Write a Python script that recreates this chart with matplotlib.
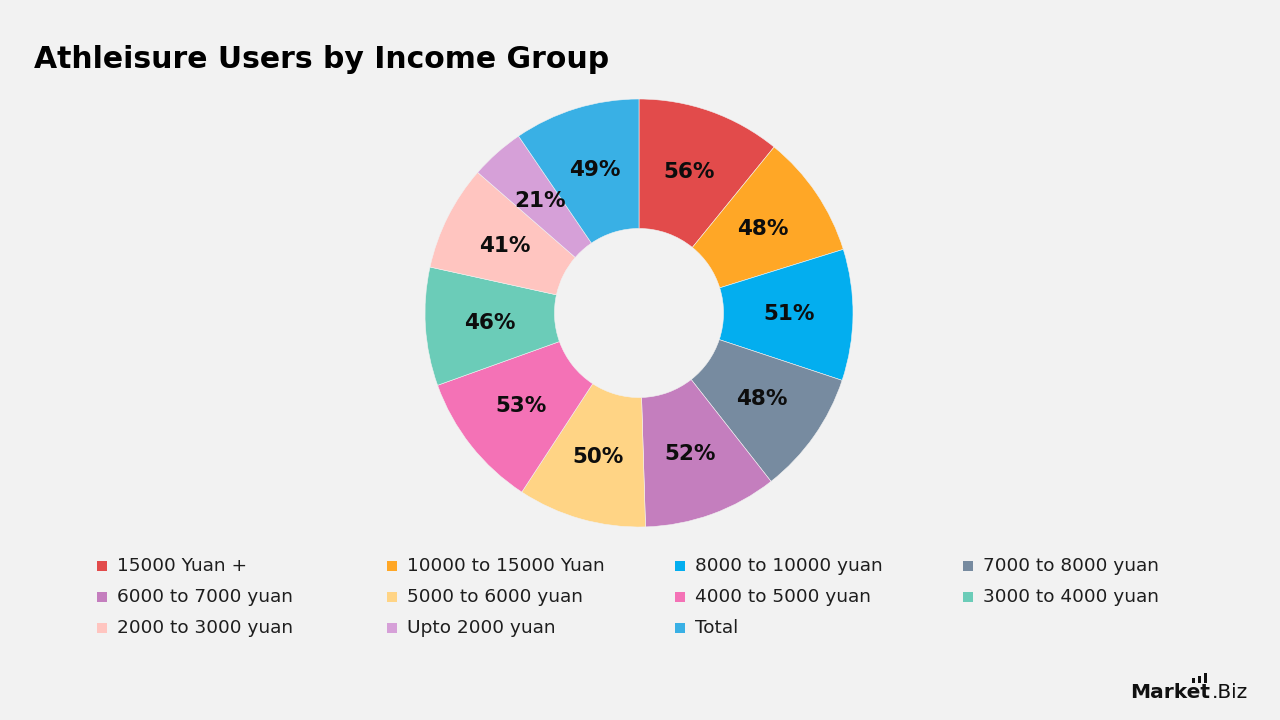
import matplotlib
matplotlib.use("Agg")
import matplotlib.pyplot as plt
from matplotlib.patches import Rectangle
import numpy as np

categories = ["15000 Yuan +", "10000 to 15000 Yuan", "8000 to 10000 yuan", "7000 to 8000 yuan",
              "6000 to 7000 yuan", "5000 to 6000 yuan", "4000 to 5000 yuan", "3000 to 4000 yuan",
              "2000 to 3000 yuan", "Upto 2000 yuan", "Total"]
values = [56, 48, 51, 48, 52, 50, 53, 46, 41, 21, 49]
colors = ["#E24B4B", "#FFA726", "#03AEEF", "#778BA0", "#C47EBE", "#FFD485",
          "#F472B6", "#6BCCB8", "#FFC5C0", "#D6A0D8", "#39B0E5"]

BG = "#F2F2F2"
plt.rcParams['font.family'] = ['DejaVu Sans']
fig = plt.figure(figsize=(12.8, 7.2), dpi=100, facecolor=BG)

cx, cy, R = 639, 313, 214
ax = fig.add_axes([(cx - R) / 1280, (720 - cy - R) / 720, 2 * R / 1280, 2 * R / 720])
ax.set_facecolor(BG)
wedges, _ = ax.pie(values, colors=colors, startangle=90, counterclock=False, radius=1,
                   wedgeprops=dict(width=0.605, edgecolor="#F2F2F2", linewidth=0.4))
ax.set_xlim(-1, 1)
ax.set_ylim(-1, 1)
ax.axis("off")

total = sum(values)
ang = 90.0
for v in values:
    span = v / total * 360
    mid = np.deg2rad(ang - span / 2)
    ang -= span
    r = 0.70
    ax.text(r * np.cos(mid), r * np.sin(mid), f"{v}%", ha="center", va="center",
            fontsize=15.5, fontweight="bold", color="#0D0D0D")

fig.text(34 / 1280, 1 - 59 / 720, "Athleisure Users by Income Group", fontsize=21.5,
         fontweight="bold", color="#000000", ha="left", va="center")

# legend
col_x = [102, 392, 680, 968]
row_y = [566, 597, 628]
for i, (lab, c) in enumerate(zip(categories, colors)):
    col, row = i % 4, i // 4
    x, y = col_x[col], row_y[row]
    fig.patches.append(Rectangle(((x - 5) / 1280, 1 - (y + 5) / 720), 10 / 1280, 10 / 720,
                                 transform=fig.transFigure, facecolor=c, edgecolor="none"))
    fig.text((x + 15) / 1280, 1 - y / 720, lab, fontsize=13.3, color="#1E1E1E",
             ha="left", va="center")

# logo
fig.text(1130 / 1280, 1 - 692 / 720, "Market", fontsize=14.5, fontweight="bold",
         color="#111111", ha="left", va="center")
fig.text(1212 / 1280, 1 - 692 / 720, ".Biz", fontsize=14.5, color="#111111",
         ha="left", va="center")
for bx, top in zip([1192, 1198, 1204], [678, 676, 673]):
    fig.patches.append(Rectangle((bx / 1280, 1 - 683 / 720), 3 / 1280, (683 - top) / 720,
                                 transform=fig.transFigure, facecolor="#111111", edgecolor="none"))

fig.savefig("out.png", dpi=100, facecolor=BG)
